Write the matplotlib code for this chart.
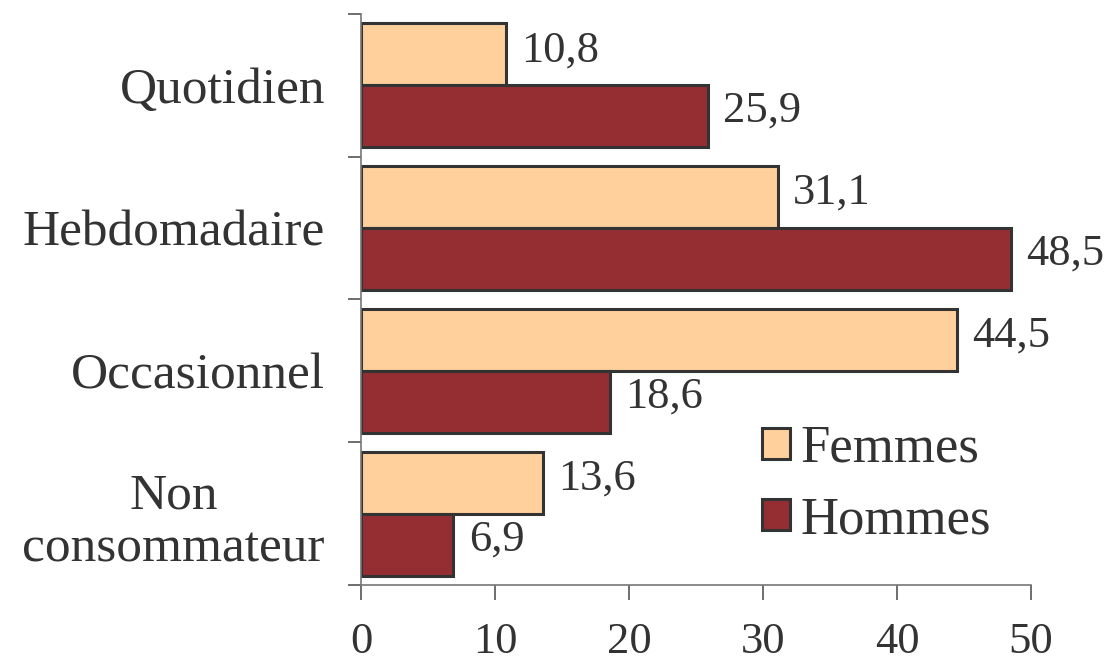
import numpy as np
import matplotlib
matplotlib.use("Agg")
import matplotlib.pyplot as plt

categories = ["Quotidien", "Hebdomadaire", "Occasionnel", "Non\nconsommateur"]
femmes = [10.8, 31.1, 44.5, 13.6]
hommes = [25.9, 48.5, 18.6, 6.9]
xticks = [0, 10, 20, 30, 40, 50]

plt.rcParams['font.family'] = ['Liberation Serif', 'DejaVu Serif']
txt = '#333333'

fig = plt.figure(figsize=(11.08, 6.70), dpi=100)
ax = fig.add_axes([0.3258, 0.1269, 0.6047, 0.8522])

y = np.arange(len(categories))
h = 0.435
ax.barh(y - h/2, femmes, height=h, color='#FFD09C', edgecolor='#333333', linewidth=2.2, label='Femmes')
ax.barh(y + h/2, hommes, height=h, color='#952E33', edgecolor='#333333', linewidth=2.2, label='Hommes')

for yi, v in zip(y - h/2, femmes):
    ax.annotate(f"{v:.1f}".replace('.', ','), (v, yi), xytext=(11, 3), textcoords='offset points',
                ha='left', va='center', fontsize=32, color=txt)
for yi, v in zip(y + h/2, hommes):
    ax.annotate(f"{v:.1f}".replace('.', ','), (v, yi), xytext=(11, 4), textcoords='offset points',
                ha='left', va='center', fontsize=32, color=txt)

ax.set_xlim(0, 50)
ax.set_ylim(3.5, -0.5)
ax.set_xticks(xticks)
ax.set_xticklabels([str(t) for t in xticks], fontsize=32, color=txt)
ax.set_yticks(np.arange(-0.5, 4, 1))
ax.set_yticklabels([])
ax.set_yticks(y, minor=True)
ax.set_yticklabels(categories, minor=True, fontsize=37, color=txt, multialignment='center')
ax.tick_params(axis='y', which='minor', length=0, pad=26)
ax.tick_params(axis='y', which='major', length=9.5, width=1.2, color='#555555')
ax.tick_params(axis='x', length=11, width=1.2, color='#555555', pad=16)

for s in ['top', 'right']:
    ax.spines[s].set_visible(False)
for s in ['left', 'bottom']:
    ax.spines[s].set_color('#777777')
    ax.spines[s].set_linewidth(1.2)

leg = ax.legend(loc='upper left', bbox_to_anchor=(0.688, 0.366), bbox_transform=fig.transFigure,
                frameon=False, fontsize=38, handlelength=0.53, handleheight=0.53,
                handletextpad=0.19, labelspacing=0.45, borderpad=0, borderaxespad=0)
for t in leg.get_texts():
    t.set_color(txt)

fig.savefig("out.png", dpi=100)
